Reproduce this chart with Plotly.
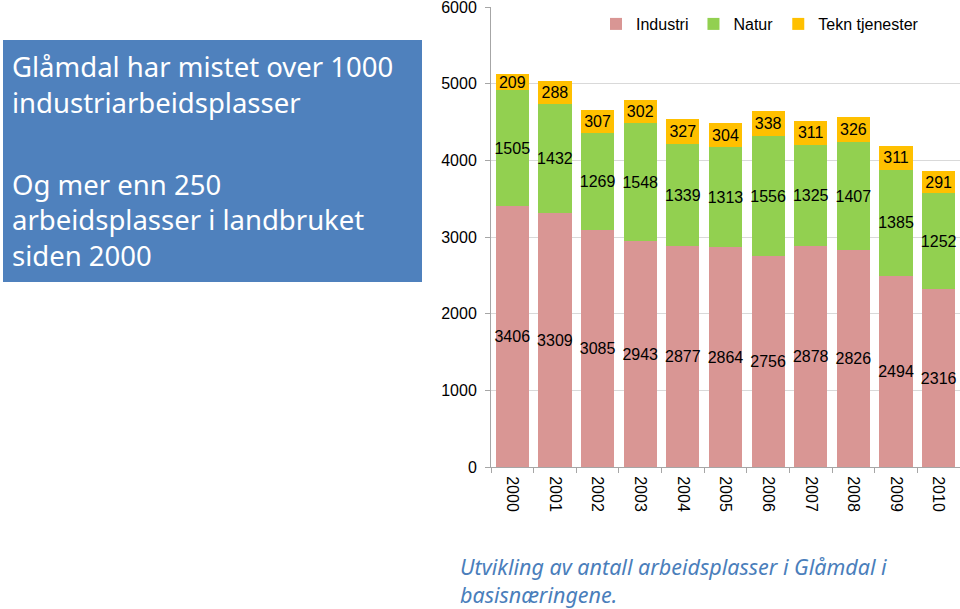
import plotly.graph_objects as go

years = ["2000", "2001", "2002", "2003", "2004", "2005", "2006", "2007", "2008", "2009", "2010"]
industri = [3406, 3309, 3085, 2943, 2877, 2864, 2756, 2878, 2826, 2494, 2316]
natur = [1505, 1432, 1269, 1548, 1339, 1313, 1556, 1325, 1407, 1385, 1252]
tekn = [209, 288, 307, 302, 327, 304, 338, 311, 326, 311, 291]

W, H = 960, 609
L, R, T, B = 491, 960, 7, 467


def px(x):
    return (x - L) / (R - L)


def py(y):
    return (B - y) / (B - T)


FONT = "Liberation Sans, Arial, sans-serif"
fig = go.Figure()
for name, vals, col in [("Industri", industri, "#D99694"),
                        ("Natur", natur, "#92D050"),
                        ("Tekn tjenester", tekn, "#FFC000")]:
    fig.add_trace(go.Bar(
        x=years, y=vals, name=name, marker=dict(color=col, line=dict(width=0)),
        text=[str(v) for v in vals], textposition="inside", insidetextanchor="middle",
        textangle=0, textfont=dict(size=16, color="black", family=FONT),
        constraintext="none", cliponaxis=False,
    ))

fig.update_layout(
    width=W, height=H, barmode="stack", bargap=0.22,
    paper_bgcolor="white", plot_bgcolor="white",
    margin=dict(l=L, r=W - R, t=T, b=H - B, autoexpand=False),
    font=dict(family=FONT, size=16, color="black"),
    uniformtext=dict(minsize=16, mode="show"),
    legend=dict(orientation="h", x=px(596), xanchor="left", y=py(24), yanchor="middle",
                font=dict(size=16), bgcolor="rgba(0,0,0,0)", traceorder="normal",
                itemwidth=30),
    showlegend=True,
)
fig.update_xaxes(showline=True, linecolor="#A6A6A6", ticks="outside", tickson="boundaries",
                 ticklen=5, tickcolor="#A6A6A6", tickangle=90, range=[-0.5, 10.5],
                 tickfont=dict(size=16), showgrid=False, ticklabelstandoff=5)
fig.update_yaxes(range=[0, 6000], dtick=1000, showline=True, linecolor="#A6A6A6",
                 ticks="outside", ticklen=5, tickcolor="#A6A6A6", gridcolor="#D9D9D9",
                 tickfont=dict(size=16), zeroline=False, ticklabeloverflow="allow",
                 ticklabelstandoff=5)

# blue box
fig.add_shape(type="rect", xref="paper", yref="paper", x0=px(3), x1=px(422), y0=py(282), y1=py(40),
              fillcolor="#4F81BD", line=dict(width=0), layer="above")
BOXFONT = "Noto Sans, Open Sans, sans-serif"
for txt, yc in [("Glåmdal har mistet over 1000", 66), ("industriarbeidsplasser", 102),
                ("Og mer enn 250", 184), ("arbeidsplasser i landbruket", 219), ("siden 2000", 255)]:
    fig.add_annotation(xref="paper", yref="paper", x=px(10), y=py(yc), xanchor="left", yanchor="middle",
                       text=txt, showarrow=False, font=dict(family=BOXFONT, size=27.5, color="white"))

for txt, yc in [("<i>Utvikling av antall arbeidsplasser i Glåmdal i</i>", 566),
                ("<i>basisnæringene.</i>", 594)]:
    fig.add_annotation(xref="paper", yref="paper", x=px(458), y=py(yc), xanchor="left", yanchor="middle",
                       text=txt, showarrow=False, font=dict(family=BOXFONT, size=21.5, color="#4A7EBB"))

fig.write_html("out.html", config={"displayModeBar": False},
               post_script="document.body.style.margin='0px';document.body.style.overflow='hidden';")
